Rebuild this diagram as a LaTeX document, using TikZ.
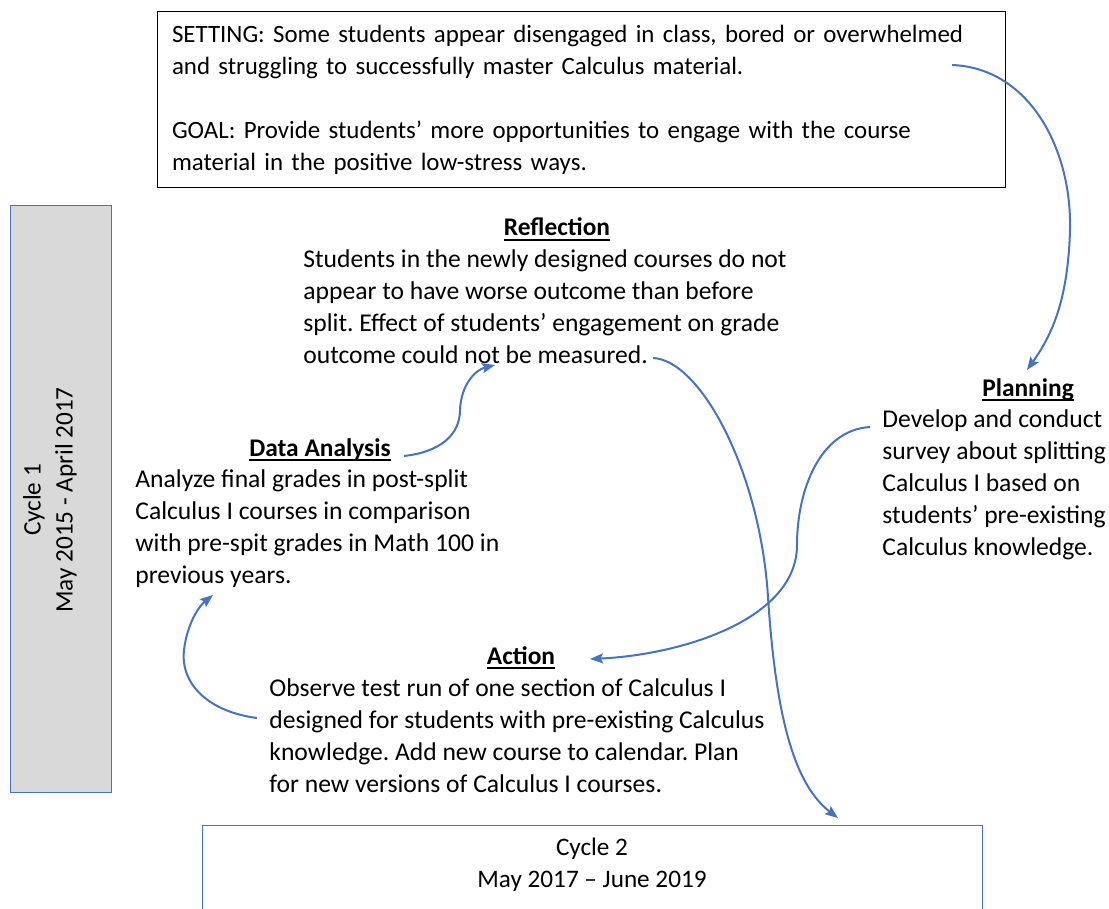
\documentclass[tikz,border=0pt]{standalone}
\usepackage{fontspec}
\setmainfont{Carlito}
\usetikzlibrary{arrows.meta}
\definecolor{myblue}{HTML}{4472C4}
\definecolor{mygray}{HTML}{D9D9D9}
\newcommand\myul[1]{\setbox0\hbox{#1}\rlap{\rule[-2.6pt]{\wd0}{0.9pt}}\box0}
\frenchspacing
\begin{document}
\frenchspacing
\begin{tikzpicture}[x=0.5pt,y=-0.5pt,
  basefont/.style={font=\fontsize{12.6}{16}\selectfont\frenchspacing},
  bodyfont/.style={font=\fontsize{12.8}{16}\selectfont\frenchspacing},
  txt/.style={bodyfont, inner sep=0pt, align=left, anchor=north west},
  ttl/.style={font=\fontsize{12.7}{16}\selectfont\bfseries, inner sep=0pt, anchor=base},
  conn/.style={draw=myblue, line width=1pt, -{Stealth[length=6.5pt,width=5pt,inset=1.2pt]}},
  bluebox/.style={draw=myblue, line width=0.5pt, inner sep=0pt}]
\useasboundingbox (0,0) rectangle (1109,909);

% boxes
\node[draw=black, line width=0.5pt, font=\fontsize{12.45}{16}\selectfont\frenchspacing, text width=409pt, align=left,
      inner xsep=7.5pt, inner ysep=0pt, minimum height=88pt, minimum width=424pt] (setting) at (581,100)
  {\strut SETTING: Some students appear disengaged in class, bored or overwhelmed\\
   and struggling to successfully master Calculus material.\\[16pt]
   GOAL: Provide students’ more opportunities to engage with the course\\
   material in the positive low-stress ways.\strut};

\node[bluebox, fill=mygray, minimum width=50.5pt, minimum height=293pt] (cyc1box) at (60.5,499) {};
\node[basefont, align=center, rotate=90, inner sep=0pt] (cyc1txt) at (50,500) {Cycle 1\\May 2015 - April 2017};

\node[bluebox, fill=white, minimum width=390pt, minimum height=55pt] (cyc2box) at (592,880) {};
\node[basefont, align=center, inner sep=0pt, anchor=north] (cyc2txt) at (592,832.6) {\strut Cycle 2\\May 2017 – June 2019};

% titles
\node[ttl] (reftitle) at (557,236) {\myul{Reflection}};
\node[ttl] (plantitle) at (1028,396) {\myul{Planning}};
\node[ttl] (datatitle) at (320,456) {\myul{Data Analysis}};
\node[ttl] (acttitle) at (521,664) {\myul{Action}};

% bodies
\node[txt] (refbody) at (303,244.6) {\strut Students in the newly designed courses do not\\
appear to have worse outcome than before\\
split. Effect of students’ engagement on grade\\
outcome could not be measured.};
\node[txt] (planbody) at (882,404.6) {\strut Develop and conduct\\survey about splitting\\Calculus I based on\\students’ pre-existing\\Calculus knowledge.};
\node[txt] (databody) at (135,464.6) {\strut Analyze final grades in post-split\\Calculus I courses in comparison\\with pre-spit grades in Math 100 in\\previous years.};
\node[txt] (actbody) at (269,673.6) {\strut Observe test run of one section of Calculus I\\designed for students with pre-existing Calculus\\knowledge. Add new course to calendar. Plan\\for new versions of Calculus I courses.};

% connector end points
\coordinate (s1) at (952,65);   \coordinate (e1) at (1027,370);
\coordinate (s2) at (870,427);  \coordinate (e2) at (590,659);
\coordinate (s3) at (257,718);  \coordinate (e3) at (213,595);
\coordinate (s4) at (404,456);  \coordinate (e4) at (495,365);
\coordinate (s5) at (653,358);  \coordinate (e5) at (838,818);

\draw[conn] (s1) .. controls (1030,68) and (1072,150) .. (1070,230) .. controls (1068,300) and (1052,335) .. (e1);
\draw[conn] (s2) .. controls (820,430) and (797,490) .. (797,545) .. controls (797,620) and (680,655) .. (e2);
\draw[conn] (s3) .. controls (210,712) and (180,685) .. (184,650) .. controls (187,625) and (198,607) .. (e3);
\draw[conn] (s4) .. controls (440,452) and (460,435) .. (460,410) .. controls (461,385) and (475,370) .. (e4);
\draw[conn] (s5) .. controls (700,360) and (760,470) .. (768,597) .. controls (776,720) and (795,785) .. (e5);
\end{tikzpicture}
\end{document}
